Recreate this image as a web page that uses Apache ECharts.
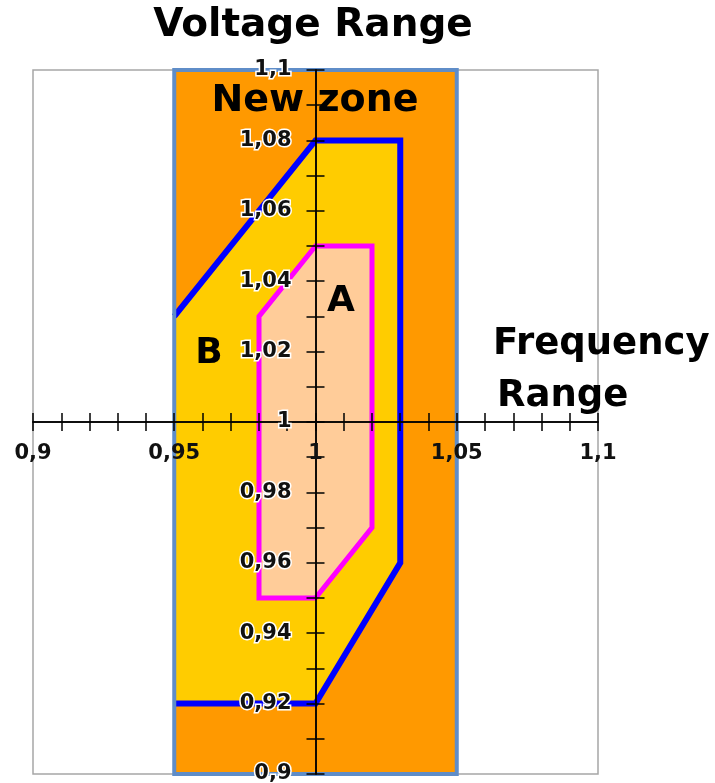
<!DOCTYPE html>
<html>
<head>
<meta charset="utf-8">
<script src="https://cdn.jsdelivr.net/npm/echarts@6/dist/echarts.min.js"></script>
<style>
html,body{margin:0;padding:0;background:#fff;}
#chart{width:715px;height:783px;}
</style>
</head>
<body>
<div id="chart"></div>
<script>
// Axis ranges and tick labels
const xTicks = [0.9, 0.95, 1.0, 1.05, 1.1];
const xTickLabels = ['0,9', '0,95', '1', '1,05', '1,1'];
const yTicks = [0.9, 0.92, 0.94, 0.96, 0.98, 1.0, 1.02, 1.04, 1.06, 1.08, 1.1];
const yTickLabels = ['0,9', '0,92', '0,94', '0,96', '0,98', '1', '1,02', '1,04', '1,06', '1,08', '1,1'];

// Zones (frequency = x, voltage = y)
const newZoneX = [0.95, 1.05, 1.05, 0.95];
const newZoneY = [0.90, 0.90, 1.10, 1.10];
const zoneBX = [0.95, 1.00, 1.03, 1.03, 1.00, 0.95];
const zoneBY = [1.03, 1.08, 1.08, 0.96, 0.92, 0.92];
const zoneAX = [0.98, 1.00, 1.02, 1.02, 1.00, 0.98];
const zoneAY = [1.03, 1.05, 1.05, 0.97, 0.95, 0.95];

// Axes cross at (1, 1)
const CROSS_X = 1.0, CROSS_Y = 1.0;

const GRID = { left: 33, right: 117, top: 70, bottom: 9 };
const W = 715, H = 783;
const gridW = W - GRID.left - GRID.right, gridH = H - GRID.top - GRID.bottom;

const xMin = xTicks[0], xMax = xTicks[xTicks.length - 1];
const yMin = yTicks[0], yMax = yTicks[yTicks.length - 1];

// axis offsets so the axes cross at (CROSS_X, CROSS_Y)
const offBottom = -gridH * (CROSS_Y - yMin) / (yMax - yMin);
const offTop = -gridH * (yMax - CROSS_Y) / (yMax - yMin);
const offLeft = -gridW * (CROSS_X - xMin) / (xMax - xMin);
const offRight = -gridW * (xMax - CROSS_X) / (xMax - xMin);

function lookup(ticks, labels, v) {
  for (let k = 0; k < ticks.length; k++) {
    if (Math.abs(ticks[k] - v) < 1e-6) return labels[k];
  }
  return '';
}

function shape(xs, ys, type, style, z) {
  return {
    type: 'custom',
    coordinateSystem: 'cartesian2d',
    silent: true,
    animation: false,
    z: z,
    data: [[xs[0], ys[0]]],
    renderItem: function (params, api) {
      return {
        type: type,
        shape: { points: xs.map(function (x, i) { return api.coord([x, ys[i]]); }) },
        style: style
      };
    }
  };
}

const labelFont = { fontFamily: 'DejaVu Sans', fontWeight: 'bold', fontSize: 21, color: '#111' };
const bigFont = 'bold 38px "DejaVu Sans"';

function xAxisCfg(pos, off, showLabel) {
  return {
    type: 'value', position: pos, offset: off, min: xMin, max: xMax, interval: 0.05, z: 10,
    axisLine: { show: true, onZero: false, lineStyle: { color: '#000', width: 1.5 } },
    axisTick: { show: true, length: 9, lineStyle: { color: '#000', width: 1.5 } },
    minorTick: { show: true, splitNumber: 5, length: 9, lineStyle: { color: '#000', width: 1.5 } },
    splitLine: { show: false },
    axisLabel: Object.assign({
      show: showLabel, margin: 21, hideOverlap: false,
      formatter: function (v) { return lookup(xTicks, xTickLabels, v); }
    }, labelFont)
  };
}
function yAxisCfg(pos, off, showLabel) {
  return {
    type: 'value', position: pos, offset: off, min: yMin, max: yMax, interval: 0.02, z: 10,
    axisLine: { show: true, onZero: false, lineStyle: { color: '#000', width: 1.5 } },
    axisTick: { show: true, length: 9, lineStyle: { color: '#000', width: 1.5 } },
    minorTick: { show: true, splitNumber: 2, length: 9, lineStyle: { color: '#000', width: 1.5 } },
    splitLine: { show: false },
    axisLabel: Object.assign({
      show: showLabel, margin: 24, hideOverlap: false,
      textBorderColor: '#fff', textBorderWidth: 3,
      formatter: function (v) { return lookup(yTicks, yTickLabels, v); }
    }, labelFont)
  };
}

const chart = echarts.init(document.getElementById('chart'), null, { renderer: 'canvas' });
chart.setOption({
  animation: false,
  backgroundColor: '#fff',
  grid: Object.assign({ show: true, borderColor: '#a6a6a6', borderWidth: 1.5, backgroundColor: 'transparent', containLabel: false, outerBoundsMode: 'none' }, GRID),
  xAxis: [xAxisCfg('bottom', offBottom, true), xAxisCfg('top', offTop, false)],
  yAxis: [yAxisCfg('left', offLeft, true), yAxisCfg('right', offRight, false)],
  series: [
    shape(newZoneX, newZoneY, 'polygon', { fill: '#FF9900', stroke: null }, 1),
    shape(zoneBX, zoneBY, 'polygon', { fill: '#FFCC00', stroke: null }, 2),
    shape(zoneBX, zoneBY, 'polyline', { fill: null, stroke: '#0000FF', lineWidth: 6, lineJoin: 'miter' }, 3),
    shape(zoneAX, zoneAY, 'polygon', { fill: '#FFCC99', stroke: '#FF00FF', lineWidth: 5, lineJoin: 'miter' }, 4),
    shape(newZoneX, newZoneY, 'polygon', { fill: null, stroke: '#5F8DC8', lineWidth: 4 }, 5)
  ],
  graphic: [
    { type: 'text', x: 313, y: 26, z: 100, style: { text: 'Voltage Range', font: 'bold 39px "DejaVu Sans"', fill: '#000', textAlign: 'center', textVerticalAlign: 'middle' } },
    { type: 'text', x: 315, y: 101, z: 100, style: { text: 'New zone', font: bigFont, fill: '#000', textAlign: 'center', textVerticalAlign: 'middle' } },
    { type: 'text', x: 341, y: 302, z: 100, style: { text: 'A', font: 'bold 36px "DejaVu Sans"', fill: '#000', textAlign: 'center', textVerticalAlign: 'middle' } },
    { type: 'text', x: 209, y: 354, z: 100, style: { text: 'B', font: 'bold 36px "DejaVu Sans"', fill: '#000', textAlign: 'center', textVerticalAlign: 'middle' } },
    { type: 'text', x: 493, y: 344, z: 100, style: { text: 'Frequency', font: 'bold 37px "DejaVu Sans"', fill: '#000', textAlign: 'left', textVerticalAlign: 'middle' } },
    { type: 'text', x: 497, y: 396, z: 100, style: { text: 'Range', font: 'bold 37px "DejaVu Sans"', fill: '#000', textAlign: 'left', textVerticalAlign: 'middle' } }
  ]
});
</script>
</body>
</html>
